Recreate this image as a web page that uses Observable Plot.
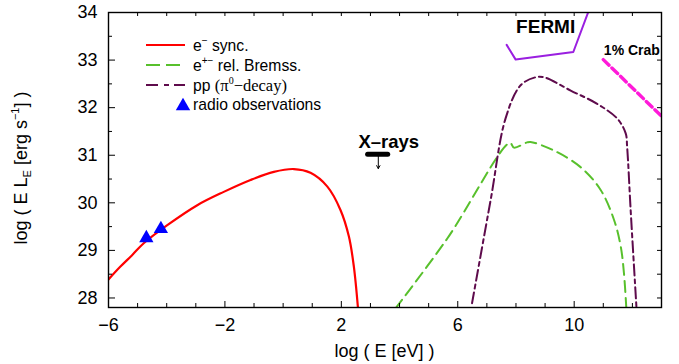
<!DOCTYPE html>
<html><head><meta charset="utf-8">
<script src="https://cdn.jsdelivr.net/npm/d3@7"></script>
<script src="https://cdn.jsdelivr.net/npm/@observablehq/plot@0.6"></script>
<style>
body{margin:0;background:#fff;}
#chart{position:relative;width:679px;height:364px;}
</style></head><body><div id="chart"></div>
<script>
// ---- data (log E [eV], log E L_E [erg/s]) ----
const syncX = [-6, -5.59, -5.19, -4.79, -3.98, -2.95, -2.04, -1.12, -0.32, 0.37, 0.94, 1.52, 1.97, 2.26, 2.43, 2.57];
const syncY = [28.39, 28.66, 28.9, 29.15, 29.53, 29.95, 30.23, 30.48, 30.65, 30.71, 30.63, 30.34, 29.85, 29.29, 28.66, 27.8];
const bremX = [3.86, 5.64, 7.79, 7.93, 8.38, 8.5, 9.3, 10.22, 10.91, 11.37, 11.6, 11.71, 11.79];
const bremY = [27.78, 29.25, 31.26, 31.16, 31.27, 31.28, 31.1, 30.75, 30.27, 29.64, 29.08, 28.52, 27.8];
const ppX = [6.49, 7.13, 7.64, 8.16, 8.68, 8.96, 9.88, 10.79, 11.48, 11.77, 11.82, 11.94, 12.14];
const ppY = [27.89, 30.06, 31.77, 32.47, 32.64, 32.64, 32.36, 32.08, 31.77, 31.46, 31.17, 29.85, 27.8];
const fermiX = [7.68, 7.99, 9.97, 10.6];
const fermiY = [33.32, 33.01, 33.17, 34.2];
const crabX = [11.0, 13.0];
const crabY = [33.01, 31.82];
const radioX = [-4.70, -4.20];
const radioY = [29.26, 29.45];
const xrayBar = [{y: 31.02, x1: 2.92, x2: 3.61}];
const xrayArrow = [{x: 3.27, y1: 31.0, y2: 30.72}];
const centeredLabels = [
  {x: 9.02, y: 33.70, t: "FERMI", size: 19},
  {x: 3.63, y: 31.28, t: "X\u2013rays", size: 18.5}
];
const startLabels = [
  {x: 11.02, y: 33.20, t: "1% Crab", size: 14}
];
const xDomain = [-6, 13];
const yDomain = [27.8, 34];
const xMajor = [-6, -2, 2, 6, 10];
const xMinor = [-5, -4, -3, -1, 0, 1, 3, 4, 5, 7, 8, 9, 11, 12];
const yMajor = [28, 29, 30, 31, 32, 33, 34];
const yMinor = [28.5, 29.5, 30.5, 31.5, 32.5, 33.5];

const rows = (xs, ys) => xs.map((x, i) => ({x, y: ys[i]}));
const font = '"Liberation Sans", Arial, Helvetica, sans-serif';
const W = 679, H = 364, mL = 108, mR = 18, mT = 12, mB = 57;
const pw = W - mL - mR, ph = H - mT - mB;

const plot = Plot.plot({
  width: W, height: H, marginLeft: mL, marginRight: mR, marginTop: mT, marginBottom: mB,
  style: {fontFamily: font, background: "white", color: "black", overflow: "visible"},
  x: {domain: xDomain, label: null},
  y: {domain: yDomain, label: null},
  marks: [
    Plot.line(rows(bremX, bremY), {x: "x", y: "y", stroke: "#58c02c", strokeWidth: 2, strokeDasharray: "11,6", curve: "catmull-rom", clip: true}),
    Plot.line(rows(ppX, ppY), {x: "x", y: "y", stroke: "#5e0b4c", strokeWidth: 2, strokeDasharray: "11,4,4,4", curve: "catmull-rom", clip: true}),
    Plot.line(rows(syncX, syncY), {x: "x", y: "y", stroke: "#ff0000", strokeWidth: 2.2, curve: "catmull-rom", clip: true}),
    Plot.line(rows(fermiX, fermiY), {x: "x", y: "y", stroke: "#9a1fe0", strokeWidth: 2, clip: true}),
    Plot.line(rows(crabX, crabY), {x: "x", y: "y", stroke: "#ff1ad9", strokeWidth: 3.4, strokeDasharray: "8,4", clip: true}),
    Plot.dot(rows(radioX, radioY), {x: "x", y: "y", symbol: "triangle", r: 5.3, fill: "#0000ff", stroke: null}),
    Plot.ruleY(xrayBar, {y: "y", x1: "x1", x2: "x2", stroke: "black", strokeWidth: 5, strokeLinecap: "round"}),
    Plot.arrow(xrayArrow, {x1: "x", x2: "x", y1: "y1", y2: "y2", stroke: "black", strokeWidth: 1, headLength: 5}),
    Plot.text(centeredLabels, {x: "x", y: "y", text: "t", fontSize: d => d.size, textAnchor: "middle", fontWeight: "bold", fill: "black", lineAnchor: "middle"}),
    Plot.text(startLabels, {x: "x", y: "y", text: "t", fontSize: d => d.size, textAnchor: "start", fontWeight: "bold", fill: "black", lineAnchor: "middle"}),
    // inward ticks
    Plot.ruleX(xMajor, {x: d => d, insetTop: ph - 6, stroke: "black"}),
    Plot.ruleX(xMinor, {x: d => d, insetTop: ph - 4, stroke: "black"}),
    Plot.ruleX(xMajor.concat(xMinor), {x: d => d, insetBottom: ph - 4, stroke: "black"}),
    Plot.ruleY(yMajor, {y: d => d, insetRight: pw - 7, stroke: "black"}),
    Plot.ruleY(yMinor, {y: d => d, insetRight: pw - 4, stroke: "black"}),
    Plot.ruleY(yMajor.concat(yMinor), {y: d => d, insetLeft: pw - 4, stroke: "black"}),
    // tick labels
    Plot.axisX(xMajor, {anchor: "bottom", tickSize: 0, tickPadding: 11, fontSize: 18, label: null}),
    Plot.axisY(yMajor, {anchor: "left", tickSize: 0, tickPadding: 11, fontSize: 18, label: null}),
    Plot.frame({stroke: "black", strokeWidth: 1.4})
  ]
});

const svg = d3.select(plot);
// axis titles
svg.append("text").attr("x", mL + pw / 2).attr("y", 357).attr("text-anchor", "middle")
  .attr("font-family", font).attr("font-size", 18).attr("fill", "black").text("log ( E [eV] )");
const yl = svg.append("text").attr("transform", "translate(27,168) rotate(-90)").attr("text-anchor", "middle")
  .attr("font-family", font).attr("font-size", 18).attr("fill", "black");
yl.append("tspan").text("log ( E L");
yl.append("tspan").attr("font-size", 11).attr("dy", 4).text("E");
yl.append("tspan").attr("dy", -4).text(" [erg s");
yl.append("tspan").attr("font-size", 11).attr("dy", -8).text("\u22121");
yl.append("tspan").attr("dy", 8).text("] )");

// legend
const lg = svg.append("g").attr("font-family", font).attr("font-size", 15.7).attr("fill", "black").attr("text-anchor", "start");
const lx1 = 146, lx2 = 185, tx = 193;
const legendRows = [
  {y: 45, stroke: "#ff0000", dash: null},
  {y: 65, stroke: "#58c02c", dash: "14,6"},
  {y: 85, stroke: "#5e0b4c", dash: "12,6,5,5"}
];
legendRows.forEach(r => {
  lg.append("line").attr("x1", lx1).attr("x2", lx2).attr("y1", r.y).attr("y2", r.y)
    .attr("stroke", r.stroke).attr("stroke-width", 2).attr("stroke-dasharray", r.dash);
});
lg.append("path").attr("d", d3.symbol(d3.symbolTriangle, 90)()).attr("transform", "translate(183,106)").attr("fill", "#0000ff");
const t1 = lg.append("text").attr("x", tx).attr("y", 50.5);
t1.append("tspan").text("e");
t1.append("tspan").attr("font-size", 10).attr("dy", -7).text("\u2212");
t1.append("tspan").attr("dy", 7).text(" sync.");
const t2 = lg.append("text").attr("x", tx).attr("y", 70.5);
t2.append("tspan").text("e");
t2.append("tspan").attr("font-size", 10).attr("dy", -7).text("+\u2212");
t2.append("tspan").attr("dy", 7).text(" rel. Bremss.");
const t3 = lg.append("text").attr("x", tx).attr("y", 90.5);
t3.append("tspan").text("pp ");
t3.append("tspan").attr("font-family", '"Liberation Serif", "Times New Roman", serif').attr("font-size", 16.5).text("(\u03c0");
t3.append("tspan").attr("font-family", '"Liberation Serif", serif').attr("font-size", 10).attr("dy", -7).text("0");
t3.append("tspan").attr("font-family", '"Liberation Serif", serif').attr("font-size", 16.5).attr("dy", 7).text("\u2212decay)");
lg.append("text").attr("x", tx).attr("y", 110).text("radio observations");

document.getElementById("chart").appendChild(plot);
</script></body></html>
